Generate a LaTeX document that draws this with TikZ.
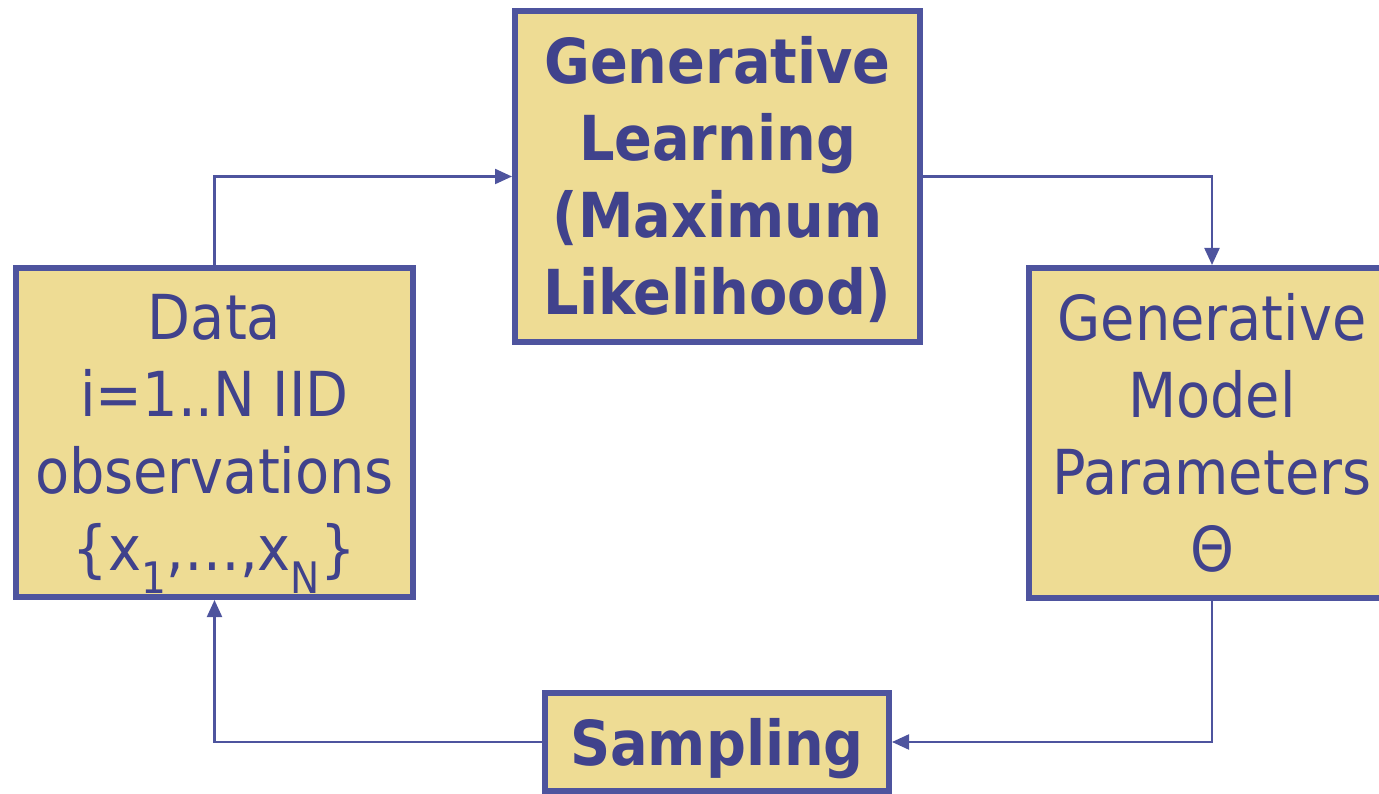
\documentclass[tikz,border=0pt]{standalone}
\usepackage{fontspec}
\setmainfont{DejaVu Sans Condensed}
\usetikzlibrary{arrows.meta}
\definecolor{boxfill}{RGB}{238,220,148}
\definecolor{boxline}{RGB}{78,84,158}
\definecolor{boxtext}{RGB}{64,66,140}
\tikzset{
    stagebox/.style={draw=boxline, fill=boxfill, line width=6pt, text=boxtext,
        align=center, inner sep=0pt, font=\fontsize{62}{77}\selectfont},
    boldbox/.style={stagebox, font=\fontsize{62}{77}\selectfont\bfseries},
    flow/.style={draw=boxline, line width=2.2pt,
        -{Triangle[length=17pt,width=15pt]}}
}
\begin{document}
\begin{tikzpicture}[x=1pt, y=-1pt]
    \useasboundingbox (0,0) rectangle (1379,794);
    % the four stages
    \node[stagebox, minimum width=397pt, minimum height=329pt, text depth=0pt] (data) at (214.5,432.5)
        {Data\\i=1..N IID\\observations\\\{x\textsubscript{1},…,x\textsubscript{N}\}};
    \node[boldbox, minimum width=405pt, minimum height=331pt, text depth=2pt]
        (learn) at (717.5,176.5) {Generative\\Learning\\(Maximum\\Likelihood)};
    \node[stagebox, minimum width=366pt, minimum height=330pt] (params) at (1212,433)
        {Generative\\Model\\Parameters\\Θ};
    \node[boldbox, minimum width=344pt, minimum height=98pt, text depth=0pt]
        (sample) at (717,742) {Sampling};
    % the cycle
    \draw[flow] (data.north) |- (learn.west);
    \draw[flow] (learn.east) -| (params.north);
    \draw[flow] (params.south) |- (sample.east);
    \draw[flow] (sample.west) -| (data.south);
\end{tikzpicture}
\end{document}
